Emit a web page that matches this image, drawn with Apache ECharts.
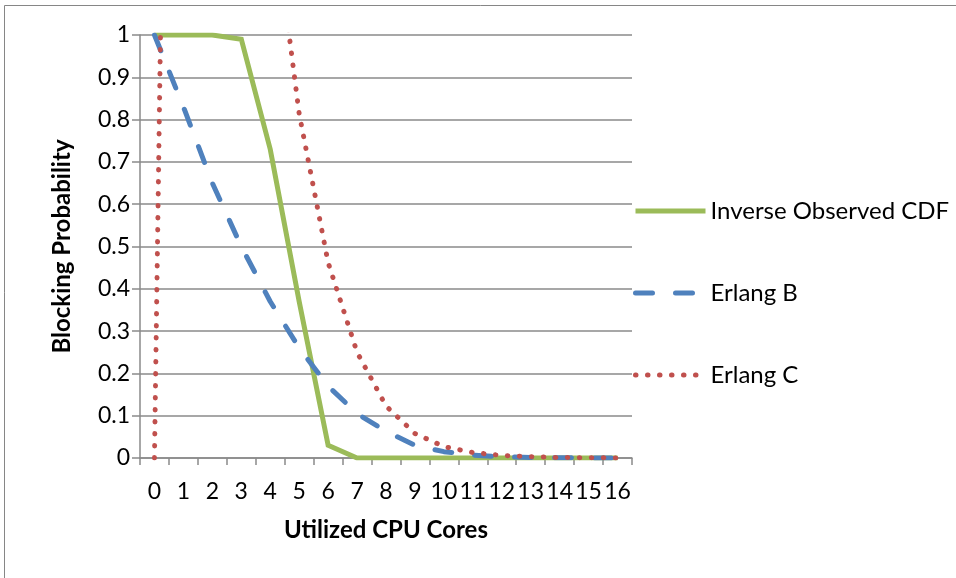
<!DOCTYPE html>
<html>
<head>
<meta charset="utf-8">
<title>Blocking Probability</title>
<script src="https://cdn.jsdelivr.net/npm/echarts@6/dist/echarts.min.js"></script>
<style>
  html, body { margin: 0; padding: 0; background: #ffffff; }
  #chart { width: 956px; height: 578px; }
</style>
</head>
<body>
<div id="chart"></div>
<script>
// Number of utilized CPU cores (category axis)
const cores = ['0','1','2','3','4','5','6','7','8','9','10','11','12','13','14','15','16'];

// Blocking probability per number of cores
const inverseObservedCdf = [1, 1, 1, 0.99, 0.73, 0.37, 0.03, 0, 0, 0, 0, 0, 0, 0, 0, 0, 0];
const erlangB = [1, 0.83, 0.65, 0.5, 0.37, 0.26, 0.17, 0.105, 0.063, 0.03, 0.015, 0.007, 0.003, 0.001, 0.0005, 0.0002, 0.0001];
// Erlang C exceeds 1 below the offered load; those parts fall outside the plot
const erlangC = [0, 4.8, 3.5, 2.4, 1.35, 0.814, 0.462, 0.25, 0.123, 0.058, 0.027, 0.013, 0.006, 0.003, 0.0012, 0.0005, 0.0002];

const seriesNames = ['Inverse Observed CDF', 'Erlang B', 'Erlang C'];

const FONT = 'Lato';
const GRID_COLOR = '#8a8a8a';
const GREEN = '#9BBB59';
const BLUE = '#4F81BD';
const RED = '#C0504D';

const chart = echarts.init(document.getElementById('chart'), null, { renderer: 'canvas' });

chart.setOption({
  animation: false,
  backgroundColor: '#ffffff',
  textStyle: { fontFamily: FONT, color: '#000000' },
  graphic: [{
    type: 'rect',
    silent: true,
    shape: { x: 4.5, y: 5.5, width: 2000, height: 2000 },
    style: { fill: 'none', stroke: '#868686', lineWidth: 1 }
  }],
  grid: { left: 140, top: 35, width: 492, height: 423, containLabel: false },
  legend: {
    orient: 'vertical',
    left: 633,
    top: 199,
    padding: 0,
    itemWidth: 70,
    itemHeight: 14,
    itemGap: 58,
    itemStyle: { opacity: 0 },
    lineStyle: { width: 5 },
    textStyle: { fontFamily: FONT, fontSize: 24, color: '#000000', lineHeight: 24 },
    data: seriesNames
  },
  xAxis: {
    type: 'category',
    data: cores,
    boundaryGap: true,
    name: 'Utilized CPU Cores',
    nameLocation: 'middle',
    nameGap: 60,
    nameTextStyle: { fontFamily: FONT, fontSize: 24, fontWeight: 'bold', color: '#000000' },
    axisLine: { show: true, lineStyle: { color: GRID_COLOR, width: 1.5 } },
    axisTick: { show: true, alignWithLabel: false, length: 7, lineStyle: { color: GRID_COLOR, width: 1.5 } },
    axisLabel: { margin: 22, fontFamily: FONT, fontSize: 23, color: '#000000', interval: 0, hideOverlap: false },
    splitLine: { show: false }
  },
  yAxis: {
    type: 'value',
    min: 0,
    max: 1,
    interval: 0.1,
    name: 'Blocking Probability',
    nameLocation: 'middle',
    nameGap: 66,
    nameRotate: 90,
    nameTextStyle: { fontFamily: FONT, fontSize: 24, fontWeight: 'bold', color: '#000000' },
    axisLine: { show: true, lineStyle: { color: GRID_COLOR, width: 1.5 } },
    axisTick: { show: true, length: 8, lineStyle: { color: GRID_COLOR, width: 1.5 } },
    axisLabel: { margin: 10, fontFamily: FONT, fontSize: 23, color: '#000000' },
    splitLine: { show: true, lineStyle: { color: GRID_COLOR, width: 1.5 } }
  },
  series: [
    {
      name: seriesNames[0],
      type: 'line',
      data: inverseObservedCdf,
      symbol: 'none',
      clip: true,
      z: 3,
      lineStyle: { color: GREEN, width: 5, cap: 'butt', join: 'miter' },
      itemStyle: { color: GREEN }
    },
    {
      name: seriesNames[1],
      type: 'line',
      data: erlangB,
      symbol: 'none',
      clip: true,
      z: 4,
      lineStyle: { color: BLUE, width: 5, type: [17, 23], cap: 'round', join: 'round' },
      itemStyle: { color: BLUE }
    },
    {
      name: seriesNames[2],
      type: 'line',
      data: erlangC,
      symbol: 'none',
      clip: true,
      z: 5,
      lineStyle: { color: RED, width: 5, type: [0.5, 11.5], cap: 'round', join: 'round' },
      itemStyle: { color: RED }
    }
  ]
});
</script>
</body>
</html>
